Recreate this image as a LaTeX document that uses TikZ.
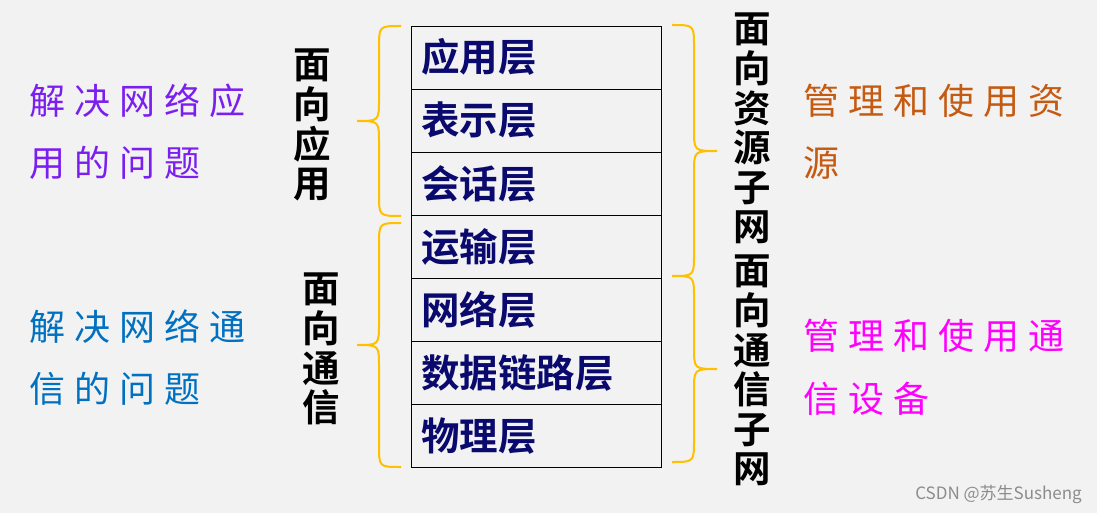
\documentclass[tikz,border=0pt]{standalone}
\usepackage{fontspec}
\newfontfamily\cjk{Noto Sans CJK SC}[BoldFont={Noto Sans CJK SC Bold}]
\definecolor{bgc}{HTML}{F2F2F2}
\definecolor{navy}{HTML}{0A0A6E}
\definecolor{gold}{HTML}{FFC000}
\definecolor{purp}{HTML}{7B1FF0}
\definecolor{blu}{HTML}{0070C0}
\definecolor{orng}{HTML}{C55A11}
\definecolor{mag}{HTML}{FF00FF}
\newcommand{\gp}{\hspace{9pt}}
\newcommand{\mybrace}[6]{%
\draw[bracestyle] (#1,#4) .. controls (#2,#4) .. (#2,#4+22) -- (#2,#5-22) .. controls (#2,#5) .. (#3,#5) .. controls (#2,#5) .. (#2,#5+22) -- (#2,#6-22) .. controls (#2,#6) .. (#1,#6);}
\begin{document}
\begin{tikzpicture}[x=1pt,y=-1pt,
  layer/.style={draw=black,line width=1.2pt,minimum width=250pt,minimum height=63pt,inner sep=0pt,anchor=north west},
  laytxt/.style={font=\cjk\bfseries\fontsize{38.5}{40}\selectfont,text=navy,anchor=base west,inner sep=0pt},
  vtxt/.style={font=\cjk\bfseries\fontsize{37.5}{39.6}\selectfont,align=center,anchor=north,inner sep=0pt,text=black},
  htxt/.style={font=\cjk\fontsize{36}{37}\selectfont,anchor=base west,inner sep=0pt},
  bracestyle/.style={draw=gold,line width=2pt}]
\fill[bgc] (0,0) rectangle (1097,513);
\useasboundingbox (0,0) rectangle (1097,513);
% layers
\node[layer] (l1) at (411,26) {};
\node[layer] (l2) at (411,89) {};
\node[layer] (l3) at (411,152) {};
\node[layer] (l4) at (411,215) {};
\node[layer] (l5) at (411,278) {};
\node[layer] (l6) at (411,341) {};
\node[layer] (l7) at (411,404) {};
\node[laytxt] (t1) at (421,72) {应用层};
\node[laytxt] (t2) at (421,135) {表示层};
\node[laytxt] (t3) at (421,198) {会话层};
\node[laytxt] (t4) at (421,261) {运输层};
\node[laytxt] (t5) at (421,324) {网络层};
\node[laytxt] (t6) at (421,387) {数据链路层};
\node[laytxt] (t7) at (421,450) {物理层};
% braces
\mybrace{401}{379}{357}{26}{121}{216}
\mybrace{401}{379}{357}{223}{345}{467}
\mybrace{672}{694}{717}{25}{151}{276}
\mybrace{672}{694}{717}{276}{369}{462}
% vertical labels
\node[vtxt] (v1) at (312,49) {面\\向\\应\\用};
\node[vtxt] (v2) at (321,273) {面\\向\\通\\信};
\node[vtxt] (v3) at (752,13) {面\\向\\资\\源\\子\\网};
\node[vtxt] (v4) at (752,255) {面\\向\\通\\信\\子\\网};
% side texts
\node[htxt,text=purp] (p1) at (29,115) {解\gp 决\gp 网\gp 络\gp 应};
\node[htxt,text=purp] (p2) at (29,177) {用\gp 的\gp 问\gp 题};
\node[htxt,text=blu] (b1) at (29,340) {解\gp 决\gp 网\gp 络\gp 通};
\node[htxt,text=blu] (b2) at (29,402) {信\gp 的\gp 问\gp 题};
\node[htxt,text=orng] (o1) at (803,115) {管\gp 理\gp 和\gp 使\gp 用\gp 资};
\node[htxt,text=orng] (o2) at (803,177) {源};
\node[htxt,text=mag] (m1) at (803,349) {管\gp 理\gp 和\gp 使\gp 用\gp 通};
\node[htxt,text=mag] (m2) at (803,412) {信\gp 设\gp 备};
% watermark
\node[font=\cjk\fontsize{17}{18}\selectfont,text=black!45,anchor=base east,inner sep=0pt] (wm) at (1082,499) {CSDN @苏生Susheng};
\end{tikzpicture}
\end{document}
